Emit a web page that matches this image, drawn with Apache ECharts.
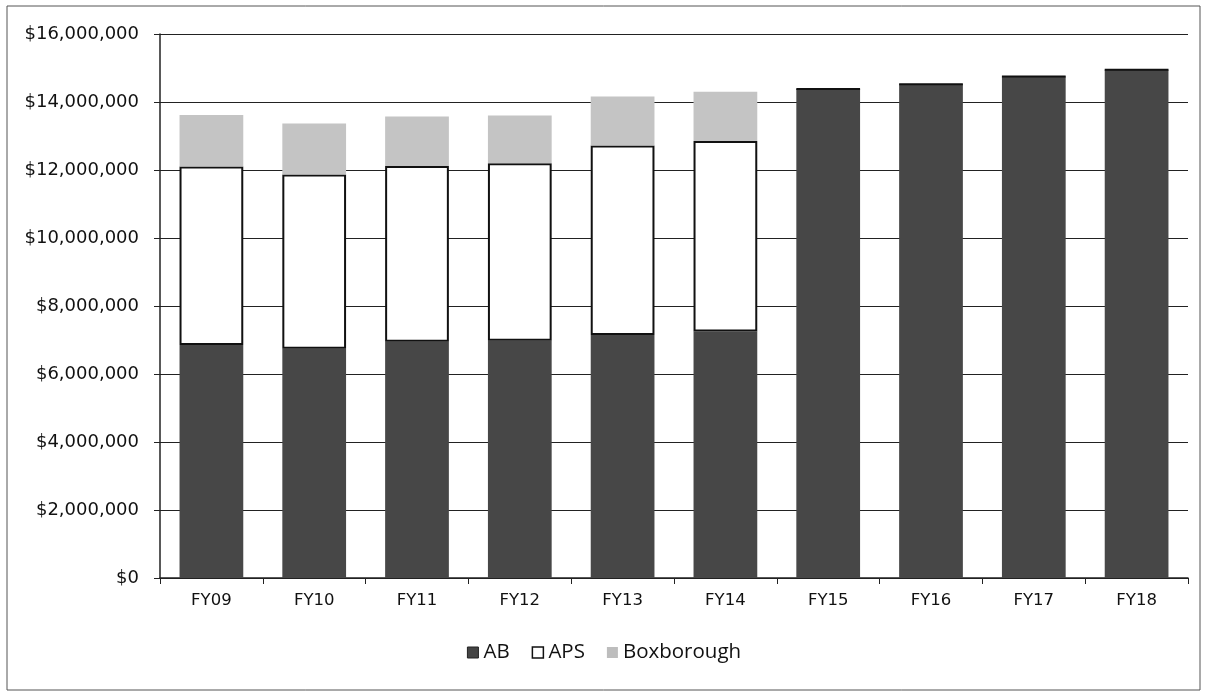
<!DOCTYPE html>
<html>
<head>
<meta charset="utf-8">
<script src="https://cdn.jsdelivr.net/npm/echarts@6/dist/echarts.min.js"></script>
<style>
  html, body { margin: 0; padding: 0; background: #fff; }
  #chart { width: 1208px; height: 694px; }
</style>
</head>
<body>
<div id="chart"></div>
<script>
const categories = ['FY09', 'FY10', 'FY11', 'FY12', 'FY13', 'FY14', 'FY15', 'FY16', 'FY17', 'FY18'];
const abValues = [6850000, 6740000, 6950000, 6980000, 7150000, 7250000, 14380000, 14520000, 14750000, 14950000];
const apsValues = [5250000, 5130000, 5170000, 5220000, 5570000, 5600000, 0, 0, 0, 0];
const boxboroughValues = [1520000, 1500000, 1450000, 1400000, 1440000, 1450000, 0, 0, 0, 0];
const yTicks = { min: 0, max: 16000000, interval: 2000000 };

const chart = echarts.init(document.getElementById('chart'));
const axisFont = '"DejaVu Sans", sans-serif';

function money(v) {
  return '$' + v.toString().replace(/\B(?=(\d{3})+(?!\d))/g, ',');
}

chart.setOption({
  backgroundColor: '#ffffff',
  animation: false,
  graphic: [{
    type: 'rect',
    shape: { x: 7, y: 6, width: 1193, height: 684 },
    style: { fill: 'none', stroke: '#555', lineWidth: 1 },
    silent: true
  }],
  grid: { left: 160, right: 20, top: 34, bottom: 116 },
  legend: {
    bottom: 26,
    left: 'center',
    icon: 'rect',
    itemWidth: 11,
    itemHeight: 11,
    itemGap: 22,
    textStyle: { fontFamily: '"Open Sans", sans-serif', fontSize: 20.5, color: '#111' },
    data: [
      { name: 'AB', itemStyle: { color: '#444', borderColor: '#222', borderWidth: 1 } },
      { name: 'APS', itemStyle: { color: '#fff', borderColor: '#111', borderWidth: 1.5 } },
      { name: 'Boxborough', itemStyle: { color: '#bdbdbd', borderWidth: 0 } }
    ]
  },
  xAxis: {
    type: 'category',
    data: categories,
    axisLine: { lineStyle: { color: '#222', width: 1.5 } },
    axisTick: { show: true, alignWithLabel: false, length: 6, lineStyle: { color: '#222' } },
    axisLabel: { fontFamily: axisFont, fontSize: 16.5, color: '#111', margin: 14 }
  },
  yAxis: {
    type: 'value',
    min: yTicks.min,
    max: yTicks.max,
    interval: yTicks.interval,
    axisLine: { show: true, lineStyle: { color: '#222', width: 1.5 } },
    axisTick: { show: true, length: 6, lineStyle: { color: '#222' } },
    axisLabel: { fontFamily: axisFont, fontSize: 18, color: '#111', margin: 21, formatter: money },
    splitLine: { lineStyle: { color: '#222', width: 1 } }
  },
  series: [
    {
      name: 'AB', type: 'bar', stack: 'total', barWidth: '62%',
      data: abValues,
      itemStyle: { color: '#474747' }
    },
    {
      name: 'APS', type: 'bar', stack: 'total',
      data: apsValues,
      itemStyle: { color: '#ffffff', borderColor: '#111', borderWidth: 2 }
    },
    {
      name: 'Boxborough', type: 'bar', stack: 'total',
      data: boxboroughValues,
      itemStyle: { color: '#c4c4c4' }
    }
  ]
});
</script>
</body>
</html>
